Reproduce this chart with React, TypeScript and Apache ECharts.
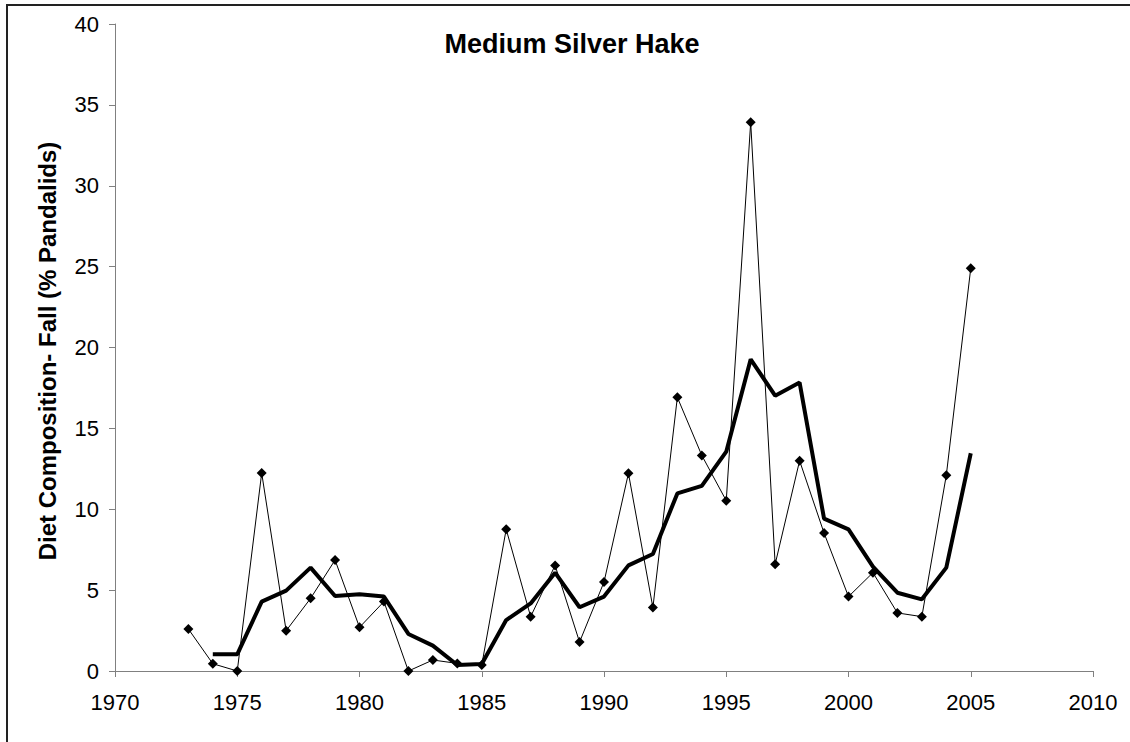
import React, { useEffect, useRef } from "react";
import * as echarts from "echarts";

const years = [1973, 1974, 1975, 1976, 1977, 1978, 1979, 1980, 1981, 1982, 1983, 1984, 1985, 1986, 1987, 1988, 1989, 1990, 1991, 1992, 1993, 1994, 1995, 1996, 1997, 1998, 1999, 2000, 2001, 2002, 2003, 2004, 2005];
const annualValues = [2.6, 0.45, 0, 12.24, 2.49, 4.49, 6.86, 2.7, 4.29, 0, 0.68, 0.47, 0.37, 8.76, 3.36, 6.53, 1.79, 5.5, 12.22, 3.92, 16.92, 13.33, 10.53, 33.92, 6.6, 13.0, 8.53, 4.6, 6.08, 3.59, 3.36, 12.1, 24.9];
const smoothedValues = [null, 1.03, 1.03, 4.29, 4.97, 6.39, 4.64, 4.74, 4.6, 2.29, 1.57, 0.37, 0.43, 3.15, 4.18, 6.08, 3.94, 4.6, 6.53, 7.23, 10.98, 11.44, 13.56, 19.27, 17.02, 17.83, 9.42, 8.76, 6.45, 4.84, 4.43, 6.39, 13.46];
const titleText = "Medium Silver Hake";
const yAxisTitle = "Diet Composition- Fall (% Pandalids)";

export default function App() {
  const ref = useRef<HTMLDivElement>(null);
  useEffect(() => {
    document.body.style.margin = "0";
    const chart = echarts.init(ref.current!, null, { renderer: "svg" });
    const font = "Liberation Sans, Arial, sans-serif";
    chart.setOption({
      animation: false,
      backgroundColor: "#ffffff",
      grid: { left: 115, right: 37, top: 24, bottom: 71 },
      xAxis: {
        type: "value",
        min: 1970,
        max: 2010,
        interval: 5,
        splitLine: { show: false },
        axisLine: { show: true, onZero: false, lineStyle: { color: "#808080", width: 1 } },
        axisTick: { show: true, inside: false, length: 6, lineStyle: { color: "#808080" } },
        axisLabel: { color: "#000", fontSize: 22, fontFamily: font, margin: 20, formatter: (v: number) => String(v) },
      },
      yAxis: {
        type: "value",
        min: 0,
        max: 40,
        interval: 5,
        splitLine: { show: false },
        axisLine: { show: true, lineStyle: { color: "#808080", width: 1 } },
        axisTick: { show: true, inside: false, length: 6, lineStyle: { color: "#808080" } },
        axisLabel: { color: "#000", fontSize: 22, fontFamily: font, margin: 16 },
      },
      graphic: [
        {
          type: "rect",
          shape: { x: 7, y: 5, width: 1200, height: 800 },
          style: { fill: "none", stroke: "#222", lineWidth: 2 },
          silent: true,
        },
        {
          type: "text",
          x: 572,
          y: 44,
          style: {
            text: titleText,
            font: "bold 27px Liberation Sans, Arial, sans-serif",
            fill: "#000",
            align: "center",
            verticalAlign: "middle",
          },
        },
        {
          type: "text",
          x: 47,
          y: 351,
          rotation: Math.PI / 2,
          style: {
            text: yAxisTitle,
            font: "bold 24px Liberation Sans, Arial, sans-serif",
            fill: "#000",
            align: "center",
            verticalAlign: "middle",
          },
        },
      ],
      series: [
        {
          type: "line",
          data: years.map((y, i) => [y, annualValues[i]]),
          symbol: "diamond",
          symbolSize: 10,
          itemStyle: { color: "#000" },
          lineStyle: { color: "#000", width: 1 },
          z: 3,
        },
        {
          type: "line",
          data: years.map((y, i) => [y, smoothedValues[i]]),
          showSymbol: false,
          symbol: "none",
          connectNulls: false,
          lineStyle: { color: "#000", width: 4 },
          z: 2,
        },
      ],
    });
    return () => chart.dispose();
  }, []);
  return <div ref={ref} style={{ width: 1130, height: 742 }} />;
}
